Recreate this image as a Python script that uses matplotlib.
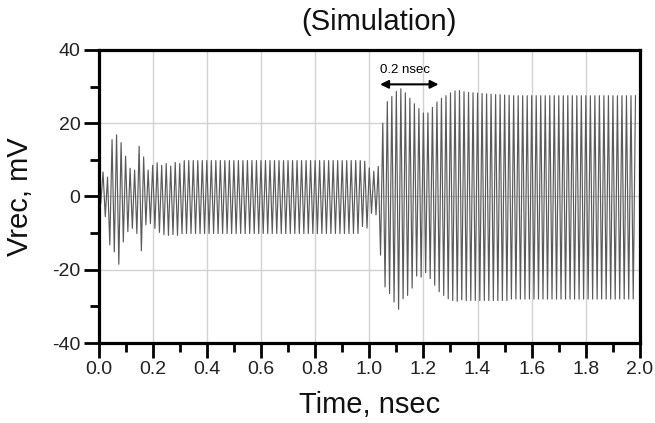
import numpy as np
import matplotlib.pyplot as plt
from matplotlib.ticker import MultipleLocator

plt.rcParams['font.family'] = ['Liberation Sans', 'DejaVu Sans']
plt.rcParams['axes.unicode_minus'] = False

period = 1 / 60  # ns, carrier period of the received signal

# positive peak of each cycle, mV
v_high = ([6.7, 5.3, 15.5, 16.8, 14.7, 11.0, 7.7, 7.2, 13.7, 10.8, 7.2, 8.5]
          + [9.2, 8.5, 9.0, 8.3, 9.3, 9.0] + [9.8] * 40
          + [9.6, 7.8, 6.9, 8.2, 20.0, 25.9, 27.3, 28.7, 29.4, 28.3, 26.8, 25.3,
             24.0, 22.8, 22.8, 24.3, 25.8, 26.8, 27.5, 28.3, 28.8, 28.9, 28.6]
          + [28.4, 28.3, 28.2, 28.1, 28.0, 27.9, 27.8, 27.8, 27.7, 27.6] + [27.5] * 28)

# negative peak of each cycle, mV
v_low = ([-1.9, -5.5, -13.2, -15.1, -18.5, -12.4, -9.6, -8.7, -10.1, -14.8, -7.7, -7.4]
         + [-8.7, -9.8, -10.4, -10.6, -10.4, -10.6] + [-10.1] * 40
         + [-8.2, -8.6, -4.6, -5.0, -16.0, -24.7, -26.5, -28.8, -30.8, -27.9, -27.0, -25.0,
            -21.7, -22.0, -20.8, -22.4, -24.2, -26.0, -27.0, -27.9, -28.4, -28.6, -28.2]
         + [-28.4] * 10 + [-28.0] * 28)

# sample times: negative peak at half cycle, positive peak at full cycle
k = np.arange(len(v_high))
t = np.concatenate([[0.0], np.column_stack([(k + 0.5) * period, (k + 1) * period]).ravel()])
v = np.concatenate([[0.0], np.column_stack([v_low, v_high]).ravel()])

fig = plt.figure(figsize=(6.55, 4.23), dpi=100)
ax = fig.add_axes([0.1504, 0.189, 0.8267, 0.693])

ax.plot(t, v, color='#5a5a5a', lw=0.85)

ax.set_xlim(0, 2.0)
ax.set_ylim(-40, 40)
ax.xaxis.set_major_locator(MultipleLocator(0.2))
ax.xaxis.set_minor_locator(MultipleLocator(0.1))
ax.yaxis.set_major_locator(MultipleLocator(20))
ax.yaxis.set_minor_locator(MultipleLocator(10))
ax.xaxis.set_major_formatter(plt.FormatStrFormatter('%.1f'))

ax.grid(True, which='major', color='#d2d2d2', lw=1.0)
ax.set_axisbelow(True)

for s in ax.spines.values():
    s.set_linewidth(2.3)
ax.tick_params(which='both', direction='out', width=2.0, labelsize=14, pad=2,
               labelcolor='#222222', top=False, right=False)
ax.tick_params(which='major', length=11)
ax.tick_params(which='minor', length=6.5)

ax.set_xlabel('Time, nsec', fontsize=21, va='center', color='#111111')
ax.xaxis.set_label_coords(0.5, -0.212)
ax.set_ylabel('Vrec, mV', fontsize=21, va='center', color='#111111')
ax.yaxis.set_label_coords(-0.145, 0.5)

fig.text(0.578, 0.948, '(Simulation)', fontsize=21, ha='center', va='center',
         color='#111111')

# 0.2 ns marker over the transient
ax.annotate('', xy=(1.04, 30.6), xytext=(1.256, 30.6),
            arrowprops=dict(arrowstyle='<|-|>', color='black', lw=1.5,
                            mutation_scale=12, shrinkA=0, shrinkB=0))
ax.text(1.131, 34.4, '0.2 nsec', fontsize=9.5, ha='center', va='center')

fig.savefig('out.png', dpi=100)
